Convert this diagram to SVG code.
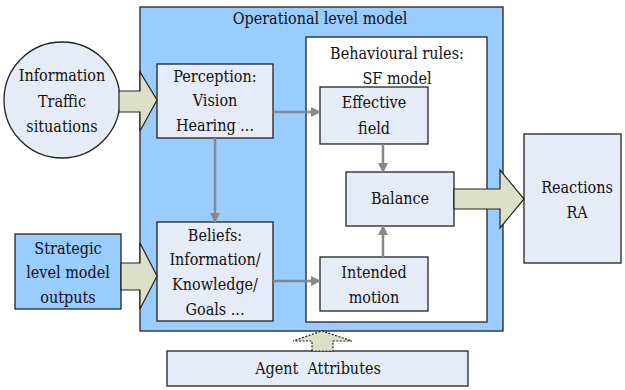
<svg xmlns="http://www.w3.org/2000/svg" width="625" height="390" viewBox="0 0 625 390">
<style>
text{font-family:'DejaVu Serif Condensed','DejaVu Serif',serif;font-stretch:condensed;font-size:16px;fill:#111;text-anchor:middle;dominant-baseline:central}
.box{fill:#e6ecf7;stroke:#222;stroke-width:1.3}
.blk{fill:#99ccff;stroke:#222;stroke-width:1.3}
.fat{fill:#dde0c8;stroke:#222;stroke-width:1.2}
.con{stroke:#888;stroke-width:2.5;fill:none}
</style>
<defs>
<marker id="ah" markerWidth="10" markerHeight="10" refX="9" refY="5" orient="auto" markerUnits="userSpaceOnUse" viewBox="0 0 10 10">
<path d="M0,0 L10,5 L0,10 Z" fill="#888"/>
</marker>
</defs>
<g id="operational">
<rect x="140" y="7" width="363" height="324" class="blk"/>
<text x="320" y="18">Operational level model</text>
</g>
<g id="behavioural">
<rect x="306" y="37" width="181" height="285" fill="#fff" stroke="#222" stroke-width="1.3"/>
<text x="397" y="53">Behavioural rules:</text>
<text x="397" y="78">SF model</text>
</g>
<g id="information">
<circle cx="62" cy="100" r="58" class="box"/>
<text x="62" y="75">Information</text>
<text x="62" y="101">Traffic</text>
<text x="62" y="126">situations</text>
</g>
<g id="strategic">
<rect x="15" y="234" width="106" height="75" class="blk"/>
<text x="68" y="248">Strategic</text>
<text x="68" y="272">level model</text>
<text x="68" y="297">outputs</text>
</g>
<g id="perception">
<rect x="157" y="64" width="116" height="74" class="box"/>
<text x="215" y="76">Perception:</text>
<text x="215" y="100">Vision</text>
<text x="215" y="125">Hearing ...</text>
</g>
<g id="beliefs">
<rect x="157" y="222" width="116" height="99" class="box"/>
<text x="215" y="235">Beliefs:</text>
<text x="215" y="259">Information/</text>
<text x="215" y="284">Knowledge/</text>
<text x="215" y="309">Goals ...</text>
</g>
<g id="effective">
<rect x="320" y="87" width="108" height="57" class="box"/>
<text x="374" y="102">Effective</text>
<text x="374" y="128">field</text>
</g>
<g id="balance">
<rect x="346" y="172" width="108" height="54" class="box"/>
<text x="400" y="198">Balance</text>
</g>
<g id="intended">
<rect x="320" y="257" width="108" height="54" class="box"/>
<text x="374" y="272">Intended</text>
<text x="374" y="297">motion</text>
</g>
<g id="reactions">
<rect x="524" y="134" width="97" height="129" class="box"/>
<text x="577" y="187">Reactions</text>
<text x="577" y="212">RA</text>
</g>
<g id="agent">
<rect x="167" y="351" width="301" height="35" class="box"/>
<text x="318" y="368" xml:space="preserve">Agent  Attributes</text>
</g>
<g id="connectors">
<path class="fat" d="M119,91 H140 V72 L157,100 L140,131 V112 H119 Z"/>
<path class="fat" d="M121,263 H140 V243 L157,276 L140,309 V290 H121 Z"/>
<path class="fat" d="M454,189 H500 V170 L524,199 L500,228 V209 H454 Z"/>
<path class="fat" d="M312,351 V341 H293 L322,331 L352,341 H333 V351 Z" stroke-dasharray="2,1.5" stroke-width="1.5"/>
<line class="con" x1="273" y1="112" x2="320" y2="112" marker-end="url(#ah)"/>
<line class="con" x1="215" y1="138" x2="215" y2="222" marker-end="url(#ah)"/>
<line class="con" x1="273" y1="281" x2="320" y2="281" marker-end="url(#ah)"/>
<line class="con" x1="383" y1="144" x2="383" y2="172" marker-end="url(#ah)"/>
<line class="con" x1="383" y1="257" x2="383" y2="226" marker-end="url(#ah)"/>
</g>
</svg>
